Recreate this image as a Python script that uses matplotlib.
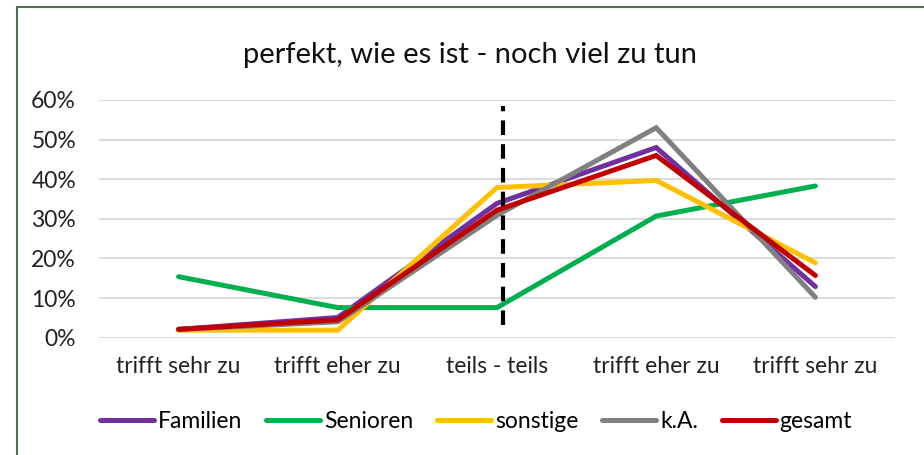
import matplotlib
matplotlib.use("Agg")
import matplotlib.pyplot as plt
from matplotlib.patches import Rectangle
from matplotlib.ticker import FuncFormatter

categories = ["trifft sehr zu", "trifft eher zu", "teils - teils", "trifft eher zu", "trifft sehr zu"]
familien = [0.021, 0.051, 0.339, 0.480, 0.129]
senioren = [0.154, 0.076, 0.076, 0.307, 0.383]
sonstige = [0.019, 0.019, 0.379, 0.397, 0.189]
ka = [0.021, 0.040, 0.309, 0.530, 0.102]
gesamt = [0.021, 0.045, 0.322, 0.460, 0.157]
series_names = ["Familien", "Senioren", "sonstige", "k.A.", "gesamt"]
colors = ["#7030A0", "#00B050", "#FFC000", "#808080", "#C00000"]
divider_x = 2.04
divider_y = [0.032, 0.586]

plt.rcParams['font.family'] = ['Lato', 'DejaVu Sans']

fig = plt.figure(figsize=(9.24, 4.55), dpi=100)
ax = fig.add_axes([99/924, 1-337.7/455, (895-99)/924, (337.7-100)/455])

x = list(range(len(categories)))
for name, vals, c in zip(series_names, [familien, senioren, sonstige, ka, gesamt], colors):
    ax.plot(x, vals, color=c, lw=3.6, label=name, solid_capstyle='round', solid_joinstyle='miter')

ax.plot([divider_x, divider_x], divider_y, color='black', lw=3, ls=(0, (3.5, 2.2)))

ax.set_xlim(-0.5, 4.5)
ax.set_ylim(0, 0.6)
ax.set_yticks([0, 0.1, 0.2, 0.3, 0.4, 0.5, 0.6])
ax.yaxis.set_major_formatter(FuncFormatter(lambda v, p: f"{v*100:.0f}%"))
ax.set_xticks(x)
ax.set_xticklabels(categories)
ax.grid(axis='y', color='#D9D9D9', lw=1.3)
ax.set_axisbelow(True)
for s in ax.spines.values():
    s.set_visible(False)
ax.tick_params(length=0, labelsize=16.5, colors='#222222')
ax.tick_params(axis='y', pad=16.5)
ax.tick_params(axis='x', pad=13)

fig.text(470/924, 1-55/455, "perfekt, wie es ist - noch viel zu tun", ha='center', va='center', fontsize=21, color='#111111')

handles, labels = ax.get_legend_handles_labels()
fig.legend(handles, labels, loc='center', bbox_to_anchor=(476/924, 1-422/455), ncol=5, frameon=False,
           fontsize=16.5, handlelength=2.35, handletextpad=0.17, columnspacing=1.05)

fig.patches.append(Rectangle((17/924, -0.01), 1.0, 1-7/455+0.01, transform=fig.transFigure,
                             fill=False, edgecolor='#4F6E4A', lw=1.5))

fig.savefig("out.png", dpi=100)
